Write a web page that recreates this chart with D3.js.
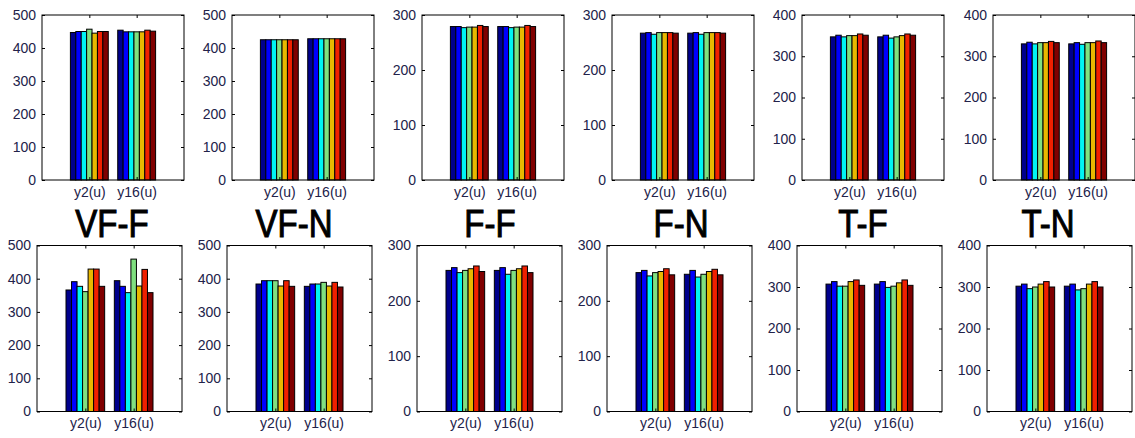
<!DOCTYPE html>
<html>
<head>
<meta charset="utf-8">
<script src="https://cdn.jsdelivr.net/npm/d3@7"></script>
<style>
  html, body { margin: 0; padding: 0; background: #fff; }
  svg { display: block; }
  .tick text { font-family: "Liberation Sans", Arial, sans-serif; }
</style>
</head>
<body>
<svg id="chart" width="1135" height="438"></svg>
<script>
// Group labels along each x axis
const groups = ["y2(u)", "y16(u)"];
// Seven series per group, jet-style colour order
const seriesColors = ["#00008c", "#0000ff", "#00f4f4", "#80e080", "#e8b800", "#f02000", "#800000"];
// Titles for the six columns
const panelTitles = ["VF-F", "VF-N", "F-F", "F-N", "T-F", "T-N"];
// Y-axis upper limits per column
const yMax = [500, 500, 300, 300, 400, 400];
const yTicks = [[0,100,200,300,400,500],[0,100,200,300,400,500],[0,100,200,300],[0,100,200,300],[0,100,200,300,400],[0,100,200,300,400]];

// Upper row values: [y2(u) series..., y16(u) series...]
const topVFF = [[447, 450, 450, 457, 445, 450, 450], [454, 449, 449, 449, 449, 454, 451]];
const topVFN = [[425, 425, 425, 425, 425, 425, 425], [428, 428, 428, 428, 428, 428, 428]];
const topFF  = [[279, 279, 277, 278, 278, 281, 279], [279, 279, 277, 278, 278, 281, 279]];
const topFN  = [[267, 268, 265, 268, 268, 268, 267], [267, 268, 265, 268, 268, 268, 267]];
const topTF  = [[347, 351, 347, 350, 350, 354, 351], [347, 351, 344, 347, 350, 354, 351]];
const topTN  = [[330, 334, 330, 333, 333, 336, 333], [330, 333, 329, 333, 333, 337, 333]];

// Lower row values
const botVFF = [[366, 391, 377, 361, 429, 429, 377], [394, 377, 358, 459, 378, 428, 358]];
const botVFN = [[384, 394, 394, 394, 378, 394, 377], [377, 384, 384, 389, 378, 389, 375]];
const botFF  = [[255, 260, 251, 255, 258, 263, 253], [255, 260, 248, 255, 258, 263, 251]];
const botFN  = [[251, 255, 245, 251, 253, 258, 247], [248, 255, 243, 248, 253, 257, 247]];
const botTF  = [[307, 313, 302, 302, 313, 317, 304], [307, 313, 299, 302, 310, 317, 304]];
const botTN  = [[302, 307, 296, 300, 307, 313, 300], [302, 307, 293, 296, 307, 313, 300]];

const topRow = [topVFF, topVFN, topFF, topFN, topTF, topTN];
const bottomRow = [botVFF, botVFN, botFF, botFN, botTF, botTN];

const svg = d3.select("#chart");
const labelColor = "#22224a";

// Plot-area geometry for each row
const rows = [
  { data: topRow,    lefts: [42, 232, 422, 612, 802, 993], width: 142, top: 15,    bottom: 180 },
  { data: bottomRow, lefts: [37, 227, 417, 607, 797, 987], width: 145, top: 245.5, bottom: 411.5 }
];

rows.forEach(row => {
  row.data.forEach((panel, p) => {
    const left = row.lefts[p], right = left + row.width;
    // Groups sit at x = 1 and 2 on a [0, 3] domain
    const x = d3.scaleLinear().domain([0, 3]).range([left, right]);
    const y = d3.scaleLinear().domain([0, yMax[p]]).range([row.bottom, row.top]);
    const g = svg.append("g");

    const groupWidth = 0.8;
    const barW = groupWidth / seriesColors.length;

    panel.forEach((vals, gi) => {
      const center = gi + 1;
      g.selectAll(null)
        .data(vals)
        .join("rect")
        .attr("x", (d, i) => x(center - groupWidth / 2 + i * barW))
        .attr("width", x(barW) - x(0))
        .attr("y", d => y(d))
        .attr("height", d => y(0) - y(d))
        .attr("fill", (d, i) => seriesColors[i])
        .attr("stroke", "#000")
        .attr("stroke-width", 1);
    });

    // Axis box
    g.append("rect")
      .attr("x", left).attr("y", row.top)
      .attr("width", row.width).attr("height", row.bottom - row.top)
      .attr("fill", "none").attr("stroke", "#000").attr("stroke-width", 1);

    // Left axis with inward ticks
    const yAxis = d3.axisLeft(y).tickValues(yTicks[p]).tickSize(-3).tickPadding(6).tickFormat(d3.format("d"));
    const ya = g.append("g").attr("transform", `translate(${left},0)`).call(yAxis);
    ya.select(".domain").remove();
    ya.selectAll("text").attr("font-size", 14).attr("fill", labelColor);
    ya.selectAll("line").attr("stroke", "#000");

    // Right-side ticks
    const yRight = d3.axisRight(y).tickValues(yTicks[p]).tickSize(-3).tickFormat("");
    const yr = g.append("g").attr("transform", `translate(${right},0)`).call(yRight);
    yr.select(".domain").remove();

    // Bottom axis with group labels
    const xAxis = d3.axisBottom(x).tickValues([1, 2]).tickSize(-3).tickPadding(7)
      .tickFormat((d, i) => groups[i]);
    const xa = g.append("g").attr("transform", `translate(0,${row.bottom})`).call(xAxis);
    xa.select(".domain").remove();
    xa.selectAll("text").attr("font-size", 14).attr("fill", labelColor);

    // Top ticks
    const xTop = d3.axisTop(x).tickValues([1, 2]).tickSize(-3).tickFormat("");
    const xt = g.append("g").attr("transform", `translate(0,${row.top})`).call(xTop);
    xt.select(".domain").remove();
  });
});

// Column titles between the rows, drawn slightly tall
const titleX = [112, 294, 490, 681, 863, 1048];
svg.selectAll("text.title")
  .data(panelTitles)
  .join("text")
  .attr("class", "title")
  .attr("transform", (d, i) => `translate(${titleX[i]},237) scale(1,1.2)`)
  .attr("text-anchor", "middle")
  .attr("font-family", "Liberation Sans, Arial, sans-serif")
  .attr("font-size", 33)
  .attr("fill", "#000")
  .attr("stroke", "#000")
  .attr("stroke-width", 0.9)
  .text(d => d);
</script>
</body>
</html>
